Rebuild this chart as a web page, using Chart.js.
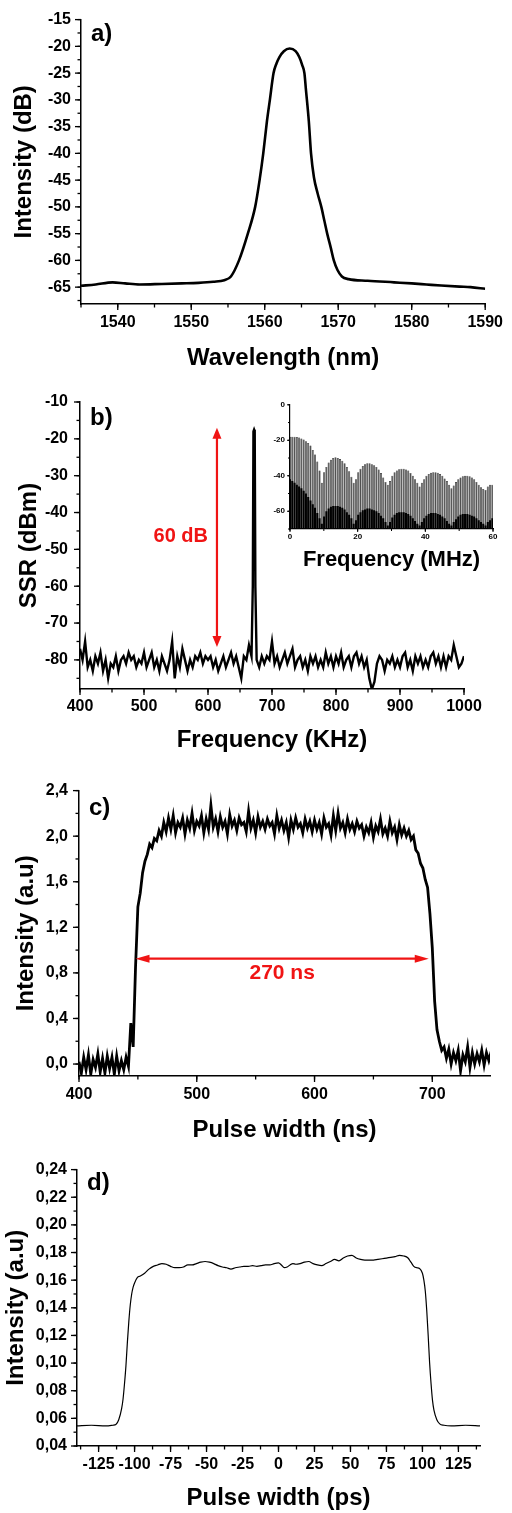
<!DOCTYPE html>
<html>
<head>
<meta charset="utf-8">
<script src="https://cdn.jsdelivr.net/npm/chart.js@4.4.0/dist/chart.umd.min.js"></script>
<style>
html, body { margin: 0; padding: 0; background: #fff; }
#wrap { position: relative; width: 512px; height: 1513px; overflow: hidden; }
canvas { position: absolute; left: 0; }
</style>
</head>
<body>
<div id="wrap">
  <canvas id="pa" width="512" height="370" style="top:0"></canvas>
  <canvas id="pb" width="512" height="400" style="top:370px"></canvas>
  <canvas id="pbi" width="252" height="180" style="top:395px;left:260px"></canvas>
  <canvas id="pc" width="512" height="380" style="top:770px"></canvas>
  <canvas id="pd" width="512" height="363" style="top:1150px"></canvas>
</div>
<script>
// a) optical spectrum
const aWavelength = [1535,1537,1539.3,1541,1543,1546,1548.7,1551,1553,1554.5,
  1555.4,1556.5,1557.7,1558.7,1559.3,1559.8,1560.3,1560.7,1561.2,1561.6,
  1562,1562.6,1563.4,1564.2,1564.7,1565.1,1565.4,1565.6,1566,1566.3,
  1566.7,1567.2,1567.7,1568.1,1568.5,1569,1569.4,1569.9,1570.5,1571.4,
  1574,1577.6,1580,1582,1584,1586.5,1588,1590];
const aLevel = [-64.75,-64.5,-64.1,-64.3,-64.5,-64.4,-64.3,-64.2,-64,-63.7,
  -63,-60,-55,-50,-45,-40,-34,-30,-25,-23.2,
  -22,-20.9,-20.4,-20.9,-22,-23.5,-25,-28,-34,-40,
  -44.5,-47.5,-50,-52.5,-55,-57.7,-60,-61.8,-63,-63.5,
  -63.8,-64.1,-64.3,-64.5,-64.7,-64.9,-65,-65.3];
const aXTicks = [1540,1550,1560,1570,1580,1590];
const aYTicks = [-15,-20,-25,-30,-35,-40,-45,-50,-55,-60,-65];

// b) RF spectrum, sampled every 4 kHz from 400 kHz
const bStartKHz = 400, bStepKHz = 4;
const bLevel = [
  -77,-80,-75,-82,-80,-83,-79,-81,-78,-83,
  -80,-85,-81,-82,-79,-83,-80,-79,-81,-78,
  -80,-79,-82,-80,-81,-78,-82,-80,-78,-82,
  -80,-83,-79,-81,-83,-80,-75,-85,-79,-82,
  -77,-80,-83,-80,-82,-79,-80,-78,-81,-79,
  -80,-79,-82,-80,-83,-81,-79,-82,-80,-78,
  -81,-79,-82,-85,-79,-80,-76,-79,-17.5,-80,
  -82,-79,-81,-79,-80,-75,-81,-79,-82,-80,
  -78,-81,-79,-77,-82,-80,-79,-82,-80,-83,
  -79,-81,-79,-82,-80,-82,-78,-81,-79,-82,
  -79,-81,-78,-82,-80,-79,-82,-79,-78,-81,
  -79,-82,-80,-85,-88,-86,-81,-79,-80,-83,
  -80,-81,-79,-82,-80,-82,-79,-78,-82,-80,
  -83,-79,-81,-79,-82,-80,-82,-79,-78,-81,
  -79,-82,-79,-82,-79,-80,-76,-79,-82,-81,
  -79];
const bPeakKHz = [670, 671, 673, 674];
const bPeakLevel = [-60, -18, -18, -60];
const bXTicks = [400,500,600,700,800,900,1000];
const bYTicks = [-10,-20,-30,-40,-50,-60,-70,-80];
const bArrowKHz = [614];
const bArrowSpan = [-17, -76.5];

// b) inset: comb lines every 0.672 MHz
const combSpacingMHz = 0.672;
const insetUpper = [
  -18,-18,-18,-18.2,-18.5,-19,-19.5,-20.5,-21.5,-23,
  -25.5,-28,-32,-37,-44,-38,-35,-32.5,-31,-30,
  -29.5,-30,-30.5,-31.5,-33,-35,-37.5,-40.5,-44,-42,
  -38,-36,-34.5,-33.5,-33,-33,-33.5,-34,-35,-36.5,
  -38.5,-41,-43.5,-45,-43,-40,-38,-37,-36.3,-36,
  -36,-36.5,-37,-38.5,-40,-42,-44,-46,-44,-42,
  -40,-39,-38.3,-38,-38,-38.3,-39,-40,-41.5,-43,
  -45,-47,-45.5,-43.5,-42,-41,-40.3,-40,-40,-40.3,
  -41,-42,-43.5,-45,-46.5,-47.5,-48,-46,-45,-45];
const insetLower = [
  -42,-43,-44,-45,-46,-47,-48.5,-50,-52,-54,
  -56,-58,-61,-64,-67,-63,-60,-58.5,-57.5,-57,
  -57,-57,-57.5,-58,-59,-60.5,-62,-64,-67,-65,
  -62,-60.5,-59.5,-59,-58.5,-58.5,-59,-59.5,-60,-61,
  -62.5,-64,-66,-68,-66,-63.5,-62,-61,-60.5,-60.5,
  -60.5,-61,-61.5,-62.5,-64,-65.5,-67,-68,-66,-64,
  -62.5,-61.5,-61,-61,-61,-61.5,-62,-63,-64,-65.5,
  -67,-68,-66,-64.5,-63,-62,-61.5,-61.5,-61.5,-62,
  -62.5,-63,-64,-65,-66,-67,-68,-66,-65,-64];
const insetXTicks = [0,20,40,60];
const insetYTicks = [0,-20,-40,-60];

// c) ns pulse, sampled every 2 ns from 400 ns
const cStartNs = 400, cStepNs = 2;
const cLevel = [
  0.02,-0.08,0.06,-0.05,0.08,-0.09,0.04,-0.03,0.09,-0.07,
  0.05,-0.08,0.07,-0.04,0.06,-0.09,0.07,-0.06,0.03,-0.05,
  0.06,-0.02,0.36,0.15,0.85,1.38,1.5,1.68,1.78,1.84,
  1.93,1.9,1.98,1.96,2.05,2.0,2.12,2.04,2.16,2.06,
  2.18,2.03,2.12,2.08,2.16,2.02,2.14,2.07,2.2,2.05,
  2.13,2.09,2.18,2.03,2.15,2.06,2.27,2.08,2.15,2.04,
  2.17,2.08,2.13,2.02,2.19,2.09,2.14,2.05,2.16,2.1,
  2.12,2.04,2.22,2.07,2.14,2.03,2.17,2.08,2.13,2.06,
  2.15,2.09,2.12,2.02,2.18,2.07,2.14,2.05,2.12,1.99,
  2.14,2.06,2.16,2.08,2.11,2.03,2.15,2.07,2.13,2.04,
  2.14,2.06,2.12,2.02,2.16,2.08,2.11,2.01,2.18,2.05,
  2.2,2.07,2.12,2.03,2.15,2.06,2.11,2.04,2.13,2.07,
  2.1,2.0,2.08,2.03,2.12,1.99,2.09,2.04,2.15,2.02,
  2.07,2.0,2.13,2.03,2.08,1.97,2.1,2.01,2.07,2.0,
  2.05,1.97,2.0,1.88,1.85,1.76,1.72,1.62,1.55,1.32,
  1.02,0.55,0.3,0.2,0.12,0.15,0.05,0.13,0.0,0.1,
  0.03,0.12,-0.06,0.08,0.02,0.15,-0.03,0.1,0.0,0.09,
  0.02,0.12,-0.01,0.1,0.03,0.11];
const cXTicks = [400,500,600,700];
const cYTicks = [0,0.4,0.8,1.2,1.6,2.0,2.4];
const cArrowNs = [448, 697];
const cArrowLevel = [0.925];

// d) ps pulse
const dTime = [-140,-130,-120,-115,-113,-111,-109,-108,-107,-106,
  -105,-104,-103,-102,-101,-100,-98,-96,-93,-90,
  -87,-84,-81,-78,-75,-72,-69,-66,-63,-60,
  -57,-54,-51,-48,-45,-42,-39,-36,-33,-30,
  -27,-24,-21,-18,-15,-12,-9,-6,-3,0,
  2,4,6,8,10,12,15,18,21,24,
  27,30,33,36,39,42,45,48,51,54,
  57,60,63,66,69,72,75,78,81,84,
  87,90,92,94,96,98,100,101,102,103,
  104,105,106,107,108,110,112,115,120,130,140];
const dLevel = [0.0545,0.055,0.0545,0.055,0.0555,0.059,0.067,0.074,0.085,0.098,
  0.115,0.13,0.142,0.15,0.155,0.158,0.162,0.163,0.165,0.168,
  0.17,0.171,0.172,0.1715,0.17,0.169,0.169,0.1695,0.171,0.171,
  0.172,0.173,0.1735,0.173,0.172,0.1705,0.1695,0.169,0.168,0.169,
  0.1695,0.17,0.17,0.1705,0.17,0.1705,0.171,0.171,0.172,0.1725,
  0.171,0.169,0.1695,0.171,0.172,0.1715,0.172,0.173,0.1735,0.172,
  0.171,0.1705,0.172,0.1735,0.175,0.174,0.176,0.1775,0.178,0.176,
  0.175,0.1745,0.1745,0.1745,0.175,0.1755,0.176,0.1765,0.177,0.178,
  0.1775,0.176,0.173,0.17,0.169,0.1685,0.165,0.16,0.152,0.138,
  0.12,0.1,0.085,0.073,0.066,0.059,0.056,0.055,0.0545,0.055,0.0545];
const dXTicks = [-125,-100,-75,-50,-25,0,25,50,75,100,125];
const dYTicks = [0.04,0.06,0.08,0.10,0.12,0.14,0.16,0.18,0.20,0.22,0.24];

const FONT = "'Liberation Sans', Arial, sans-serif";
const RED = '#f01414';
Chart.defaults.font.family = FONT;

// ticks, panel letter, red arrows and labels
const decor = {
  id: 'decor',
  afterDraw(chart, args, o) {
    const { ctx, chartArea: ca, scales: { x, y } } = chart;
    ctx.save();
    ctx.strokeStyle = '#000';
    ctx.lineWidth = o.tickWidth || 1.3;
    const mark = (s, v, len) => {
      const p = s.getPixelForValue(v);
      ctx.beginPath();
      if (s === x) { ctx.moveTo(p, ca.bottom); ctx.lineTo(p, ca.bottom + len); }
      else { ctx.moveTo(ca.left, p); ctx.lineTo(ca.left - len, p); }
      ctx.stroke();
    };
    [[x, o.xMinor], [y, o.yMinor]].forEach(([s, step]) => {
      for (let k = Math.ceil(s.min / step - 1e-6); k * step <= s.max + 1e-9; k++) mark(s, k * step, o.minorLen);
      s.ticks.forEach(t => mark(s, t.value, o.majorLen));
    });
    if (o.letter) {
      ctx.fillStyle = '#000';
      ctx.font = `bold 24px ${FONT}`;
      ctx.textBaseline = 'middle';
      ctx.textAlign = 'left';
      ctx.fillText(o.letter, ca.left + 10, ca.top + o.letterDy);
    }
    ctx.strokeStyle = RED;
    ctx.fillStyle = RED;
    (o.arrows || []).forEach(a => {
      const x1 = x.getPixelForValue(a.x1), y1 = y.getPixelForValue(a.y1);
      const x2 = x.getPixelForValue(a.x2), y2 = y.getPixelForValue(a.y2);
      const ang = Math.atan2(y2 - y1, x2 - x1);
      const L = a.head, W = a.headW;
      ctx.lineWidth = 2.2;
      ctx.beginPath();
      ctx.moveTo(x1 + Math.cos(ang) * L * 0.8, y1 + Math.sin(ang) * L * 0.8);
      ctx.lineTo(x2 - Math.cos(ang) * L * 0.8, y2 - Math.sin(ang) * L * 0.8);
      ctx.stroke();
      const head = (px, py, dir) => {
        const c = Math.cos(dir), s = Math.sin(dir);
        ctx.beginPath();
        ctx.moveTo(px, py);
        ctx.lineTo(px - c * L - s * W / 2, py - s * L + c * W / 2);
        ctx.lineTo(px - c * L + s * W / 2, py - s * L - c * W / 2);
        ctx.closePath();
        ctx.fill();
      };
      head(x2, y2, ang);
      head(x1, y1, ang + Math.PI);
    });
    (o.texts || []).forEach(t => {
      ctx.font = `bold ${t.size}px ${FONT}`;
      ctx.textAlign = t.align;
      ctx.textBaseline = 'middle';
      ctx.fillText(t.text, x.getPixelForValue(t.x), y.getPixelForValue(t.y));
    });
    ctx.restore();
  }
};

function axis(a, horiz) {
  return {
    type: 'linear', min: a.min, max: a.max, offset: false,
    afterBuildTicks: s => { s.ticks = a.ticks.map(v => ({ value: v })); },
    afterFit: s => { if (horiz) s.height = a.size; else s.width = a.size; },
    grid: { display: false, drawTicks: false },
    border: { display: true, color: '#000', width: a.border || 1.5 },
    ticks: {
      color: '#000', padding: a.tickPad, autoSkip: false, maxRotation: 0,
      font: { family: FONT, size: a.tickSize || 16, weight: 'bold' },
      callback: a.fmt || (v => String(v))
    },
    title: {
      display: true, text: a.title, color: '#000',
      font: { family: FONT, size: a.titleSize || 24, weight: 'bold', lineHeight: 1 },
      padding: { top: a.titlePad, bottom: a.titlePad }
    }
  };
}

function options(p) {
  return {
    responsive: false, animation: false, devicePixelRatio: 1, events: [],
    layout: { padding: p.pad },
    plugins: { legend: { display: false }, tooltip: { enabled: false }, decor: p.decor },
    scales: { x: axis(p.x, true), y: axis(p.y, false) }
  };
}

const line = (pts, w) => ({
  data: pts, borderColor: '#000', borderWidth: w, pointRadius: 0,
  fill: false, tension: 0
});

// a)
new Chart(document.getElementById('pa'), {
  type: 'line',
  data: { datasets: [Object.assign(line(aWavelength.map((v, i) => ({ x: v, y: aLevel[i] })), 2.6),
    { cubicInterpolationMode: 'monotone' })] },
  options: options({
    pad: { top: 17, right: 19, left: 0, bottom: 0 },
    x: { min: 1535, max: 1590, ticks: aXTicks, size: 66, tickPad: 9, title: 'Wavelength (nm)', titlePad: 0 },
    y: { min: -68.15, max: -15, ticks: aYTicks, size: 81, tickPad: 10, title: 'Intensity (dB)', titlePad: 12 },
    decor: { xMinor: 5, yMinor: 2.5, minorLen: 3.5, majorLen: 6, letter: 'a)', letterDy: 15 }
  }),
  plugins: [decor]
});

// b)
const bPts = bLevel.map((v, i) => ({ x: bStartKHz + i * bStepKHz, y: v }))
  .concat(bPeakKHz.map((v, i) => ({ x: v, y: bPeakLevel[i] })))
  .sort((p, q) => p.x - q.x);
new Chart(document.getElementById('pb'), {
  type: 'line',
  data: { datasets: [line(bPts, 2.4)] },
  options: options({
    pad: { top: 32, right: 48, left: 0, bottom: 0 },
    x: { min: 400, max: 1000, ticks: bXTicks, size: 81, tickPad: 8, title: 'Frequency (KHz)', titlePad: 18 },
    y: { min: -87.9, max: -10, ticks: bYTicks, size: 80, tickPad: 12, title: 'SSR (dBm)', titlePad: 17 },
    decor: {
      xMinor: 50, yMinor: 5, minorLen: 3.5, majorLen: 6, letter: 'b)', letterDy: 16,
      arrows: [{ x1: bArrowKHz[0], y1: bArrowSpan[0], x2: bArrowKHz[0], y2: bArrowSpan[1], head: 11, headW: 9 }],
      texts: [{ x: 600, y: -46.6, text: '60 dB', size: 20, align: 'right' }]
    }
  }),
  plugins: [decor]
});

// b) inset
new Chart(document.getElementById('pbi'), {
  type: 'bar',
  data: {
    datasets: [
      { data: insetLower.map((v, i) => ({ x: i * combSpacingMHz, y: v })), backgroundColor: '#000',
        base: -70, grouped: false, barPercentage: 0.9, categoryPercentage: 1 },
      { data: insetUpper.map((v, i) => ({ x: i * combSpacingMHz, y: v })), backgroundColor: '#505050',
        borderColor: '#111', borderWidth: 0.5,
        base: -70, grouped: false, barPercentage: 0.9, categoryPercentage: 1 }
    ]
  },
  options: options({
    pad: { top: 7, right: 19, left: 0, bottom: 0 },
    x: { min: 0, max: 60, ticks: insetXTicks, size: 46, tickPad: 3, tickSize: 8, border: 1.2,
         title: 'Frequency (MHz)', titleSize: 22, titlePad: 4 },
    y: { min: -70, max: 0, ticks: insetYTicks, size: 30, tickPad: 5, tickSize: 8, border: 1.2,
         title: '', titlePad: 0 },
    decor: { xMinor: 10, yMinor: 10, minorLen: 2, majorLen: 3, tickWidth: 1 }
  }),
  plugins: [decor]
});

// c)
const cPts = cLevel.map((v, i) => ({ x: cStartNs + i * cStepNs, y: v }));
new Chart(document.getElementById('pc'), {
  type: 'line',
  data: { datasets: [line(cPts, 2.8)] },
  options: options({
    pad: { top: 19, right: 22, left: 0, bottom: 0 },
    x: { min: 400, max: 749, ticks: cXTicks, size: 74, tickPad: 9, title: 'Pulse width (ns)', titlePad: 8 },
    y: { min: -0.105, max: 2.4, ticks: cYTicks, size: 79, tickPad: 11, title: 'Intensity (a.u)', titlePad: 14,
         fmt: v => v.toFixed(1).replace('.', ',') },
    decor: {
      xMinor: 50, yMinor: 0.2, minorLen: 3.5, majorLen: 6, letter: 'c)', letterDy: 18,
      arrows: [{ x1: cArrowNs[0], y1: cArrowLevel[0], x2: cArrowNs[1], y2: cArrowLevel[0], head: 14, headW: 8 }],
      texts: [{ x: 572.5, y: 0.8, text: '270 ns', size: 21, align: 'center' }]
    }
  }),
  plugins: [decor]
});

// d)
new Chart(document.getElementById('pd'), {
  type: 'line',
  data: { datasets: [Object.assign(line(dTime.map((v, i) => ({ x: v, y: dLevel[i] })), 1.2),
    { cubicInterpolationMode: 'monotone' })] },
  options: options({
    pad: { top: 16, right: 32, left: 0, bottom: 0 },
    x: { min: -140, max: 140, ticks: dXTicks, size: 67, tickPad: 9, title: 'Pulse width (ps)', titlePad: 3 },
    y: { min: 0.04, max: 0.24, ticks: dYTicks, size: 77, tickPad: 10, title: 'Intensity (a.u)', titlePad: 4,
         fmt: v => v.toFixed(2).replace('.', ',') },
    decor: { xMinor: 12.5, yMinor: 0.01, minorLen: 3.5, majorLen: 6, letter: 'd)', letterDy: 14 }
  }),
  plugins: [decor]
});
</script>
</body>
</html>
